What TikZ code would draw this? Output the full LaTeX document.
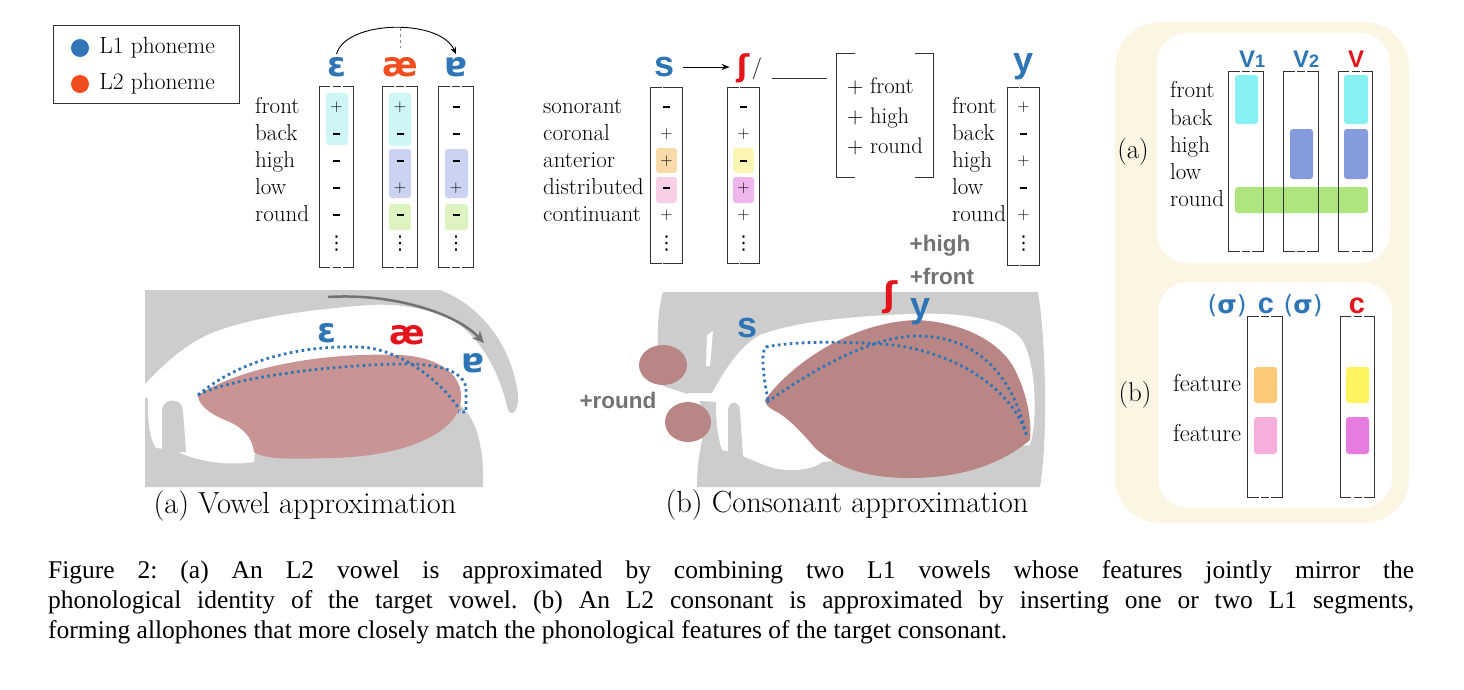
\documentclass[tikz,border=0pt]{standalone}
\usepackage{fontspec}
\usepackage{tikz}
\usetikzlibrary{positioning}
\usetikzlibrary{arrows.meta,calc}

\newfontfamily\capfont{Liberation Serif}
\newfontfamily\arialfont{Liberation Sans}
\newfontfamily\ipafont{DejaVu Sans}

\definecolor{lone}{HTML}{2E75B6}
\definecolor{ltwo}{HTML}{F24D1F}
\definecolor{tgt}{HTML}{E3141B}
\definecolor{palate}{HTML}{CDCDCD}
\definecolor{tonguea}{HTML}{C99494}
\definecolor{tongueb}{HTML}{B98686}
\definecolor{annot}{HTML}{727272}
\definecolor{cream}{HTML}{FCF5E4}
\definecolor{hlcyan}{HTML}{CFF6F6}
\definecolor{hlblue}{HTML}{CAD4F2}
\definecolor{hlgreen}{HTML}{DDF3C2}
\definecolor{hlorange}{HTML}{FADAA8}
\definecolor{hlpink}{HTML}{F8CFE6}
\definecolor{hlyellow}{HTML}{FCF6B6}
\definecolor{hlmagenta}{HTML}{EEB6EC}
\definecolor{fcyan}{HTML}{86F0F2}
\definecolor{fblue}{HTML}{859BDC}
\definecolor{fgreen}{HTML}{AFE57F}
\definecolor{forange}{HTML}{FCC978}
\definecolor{fpink}{HTML}{F5AFDA}
\definecolor{fyellow}{HTML}{FDF45F}
\definecolor{fmagenta}{HTML}{E67CE0}

\newcommand{\mn}{\rule[3.4pt]{7pt}{1.7pt}}

\tikzstyle{feat}=[anchor=base west,inner sep=0pt,font=\fontsize{23}{24}\selectfont]
\tikzstyle{val}=[anchor=base,inner sep=0pt,font=\fontsize{17}{17}\selectfont]
\tikzstyle{vdot}=[inner sep=0pt,font=\ipafont\fontsize{19}{19}\selectfont]
\tikzstyle{col}=[rectangle,inner sep=0pt,minimum width=34pt]
\tikzstyle{brk}=[draw=black!80,line width=0.8pt]
\tikzstyle{phon}=[inner sep=0pt,font=\ipafont\bfseries\fontsize{34}{34}\selectfont]
\tikzstyle{letter}=[inner sep=0pt,font=\arialfont\bfseries\fontsize{36}{36}\selectfont]
\tikzstyle{vlab}=[anchor=base,inner sep=0pt,font=\arialfont\bfseries\fontsize{24}{24}\selectfont]
\tikzstyle{hl}=[rounded corners=3pt]
\tikzstyle{dotline}=[draw=lone,line width=2.8pt,dash pattern=on 2.6pt off 3.4pt]
\tikzstyle{note}=[inner sep=0pt,text=annot,font=\arialfont\bfseries\fontsize{22.5}{23}\selectfont]
\tikzstyle{subcap}=[inner sep=0pt,font=\fontsize{30.5}{32}\selectfont]
\tikzstyle{tag}=[inner sep=0pt,font=\fontsize{27}{27}\selectfont]
\tikzstyle{caption}=[anchor=base west,inner sep=0pt,font=\capfont\fontsize{25.5}{30}\selectfont]

% bracket pair round a feature column
\newcommand{\featbrk}[1]{%
  \draw[brk] ([xshift=11pt]#1.north west) -| (#1.south west) -- ++(11pt,0);
  \draw[brk] ([xshift=-11pt]#1.north east) -| (#1.south east) -- ++(-11pt,0);
  \draw[brk] ([xshift=-4pt]#1.north) -- ++(8pt,0);
  \draw[brk] ([xshift=-4pt]#1.south) -- ++(8pt,0);
}

\begin{document}
\frenchspacing
\begin{tikzpicture}[x=1pt,y=-1pt]

  \useasboundingbox (0,0) rectangle (1464,689);

  % legend
  \node[draw=black!80,line width=0.7pt,minimum width=186pt,minimum height=78pt,inner sep=0pt] (legend) at (146,64) {};
  \node[circle,fill=lone,minimum size=18pt,inner sep=0pt] (l1dot) at (80,48) {};
  \node[circle,fill=ltwo,minimum size=18pt,inner sep=0pt] (l2dot) at (80,84) {};
  \node[right=10pt of l1dot,inner sep=0pt,font=\fontsize{23.5}{24}\selectfont] (l1txt) {L1 phoneme};
  \node[right=10pt of l2dot,inner sep=0pt,font=\fontsize{23.5}{24}\selectfont] (l2txt) {L2 phoneme};

  % ---- vowel matrices
  \foreach \y/\name in {107/front, 134/back, 161/high, 188/low, 215/round}
    \node[feat] (v\name) at (255,\y+6) {\name};

  \foreach \x/\name in {336.5/epsC, 400/aeC, 456/turnC}
    \node[col,minimum height=180pt] (\name) at (\x,177) {};

  \fill[hlcyan,hl] (326,93) rectangle (348,145);
  \fill[hlcyan,hl] (389,93) rectangle (411,146);
  \fill[hlblue,hl] (389,149) rectangle (411,198);
  \fill[hlgreen,hl] (389,204) rectangle (411,230);
  \fill[hlblue,hl] (445,149) rectangle (468,198);
  \fill[hlgreen,hl] (445,204) rectangle (468,230);

  \foreach \x/\name/\a/\b/\c/\d/\e in {336.5/epsC/+/\mn/\mn/\mn/\mn, 400/aeC/+/\mn/\mn/+/\mn, 456/turnC/\mn/\mn/\mn/+/\mn}{
    \foreach \v [count=\i] in {\a,\b,\c,\d,\e}
      \node[val] (\name\i) at (\x,{84+27*\i}) {\v};
    \node[vdot] (\name6) at (\x,244) {⋮};
  }
  \foreach \name in {epsC,aeC,turnC}{\featbrk{\name}}

  \node[phon,text=lone] (epsL) at (336.5,67) {ɛ};
  \node[phon,text=ltwo] (aeL) at (400,67) {æ};
  \node[phon,text=lone] (turnL) at (456,67) {ɐ};

  \coordinate (arctop) at (400,28);
  \draw[-{Stealth[length=7pt,width=6pt]},line width=0.9pt] ([yshift=3pt]epsL.north) .. controls (346,20) and (440,18) .. ([yshift=3pt]turnL.north);
  \draw[dashed,black!45,line width=0.8pt] (arctop) -- ([yshift=9pt]aeL.north);

  % ---- consonant matrices
  \foreach \y/\name in {107/sonorant, 134/coronal, 161/anterior, 188/distributed, 215/continuant}
    \node[feat] (c\name) at (543,\y+6) {\name};

  \foreach \x/\name in {666.5/sC, 743.5/shC}
    \node[col,minimum width=31pt,minimum height=175pt] (\name) at (\x,175.5) {};

  \fill[hlorange,hl] (656,148) rectangle (677,173);
  \fill[hlpink,hl] (656,177) rectangle (677,203);
  \fill[hlyellow,hl] (733,148) rectangle (754,173);
  \fill[hlmagenta,hl] (733,177) rectangle (754,203);

  \foreach \x/\name/\a/\b/\c/\d/\e in {666.5/sC/\mn/+/+/\mn/+, 743.5/shC/\mn/+/\mn/+/+}{
    \foreach \v [count=\i] in {\a,\b,\c,\d,\e}
      \node[val] (\name\i) at (\x,{84+27*\i}) {\v};
    \node[vdot] (\name6) at (\x,244) {⋮};
  }
  \foreach \name in {sC,shC}{\featbrk{\name}}

  \node[letter,text=lone] (sL) at (665,67) {s};
  \node[phon,text=tgt,font=\ipafont\bfseries\fontsize{30}{30}\selectfont] (shL) at (743,68) {ʃ};
  \node[inner sep=0pt,font=\fontsize{22}{22}\selectfont] (slash) at (757,69) {/};
  \draw[-{Stealth[length=8pt,width=6pt]},line width=0.8pt] ([xshift=8pt]sL.east) -- ([xshift=-7pt]sL.east -| shL.west);

  \coordinate (blankL) at (772,78);
  \coordinate (blankR) at (827,78);
  \draw[brk] (blankL) -- (blankR);

  \node[col,minimum width=96pt,minimum height=123pt] (env) at (885,115.5) {};
  \draw[brk] ([xshift=18pt]env.north west) -| (env.south west) -- ++(18pt,0);
  \draw[brk] ([xshift=-18pt]env.north east) -| (env.south east) -- ++(-18pt,0);
  \foreach \y/\t in {93/front, 123/high, 153/round}
    \node[anchor=base west,inner sep=0pt,font=\fontsize{22.5}{22}\selectfont] (env\t) at (847,\y) {+ \t};

  % target vowel y
  \foreach \y/\name in {107/front, 134/back, 161/high, 188/low, 215/round}
    \node[feat] (y\name) at (952,\y+6) {\name};
  \node[col,minimum width=31pt,minimum height=177pt] (yC) at (1023.5,176.5) {};
  \foreach \v [count=\i] in {+,\mn,+,\mn,+}
    \node[val] (yC\i) at (1023.5,{84+27*\i}) {\v};
  \node[vdot] (yC6) at (1023.5,244) {⋮};
  \featbrk{yC}
  \node[letter,text=lone] (yL) at (1023,67) {y};

  % ---- vowel picture
  \fill[palate] (145,290) -- (440,290) .. controls (480,305) and (512,345) .. (518,395)
    .. controls (519,410) and (512,418) .. (508,410) .. controls (500,375) and (485,345) .. (460,325)
    .. controls (440,310) and (400,303) .. (370,305) .. controls (300,310) and (240,320) .. (207,335)
    .. controls (180,348) and (160,368) .. (145,384) -- cycle;
  \fill[palate] (145,398) -- (145,487) -- (483,487) .. controls (484,450) and (478,420) .. (460,405) -- (200,400) -- cycle;
  \fill[white] (148,398) .. controls (147,420) and (150,440) .. (156,448) -- (175,450)
    .. controls (195,462) and (230,466) .. (254,462) -- (258,420) -- (200,397) -- cycle;
  \fill[palate] (162,452) -- (162,411) .. controls (162,397) and (183,397) .. (183,411) -- (186,452) -- cycle;
  \fill[tonguea] (198,395) .. controls (240,368) and (320,352) .. (400,355) .. controls (440,357) and (463,375) .. (461,400)
    .. controls (458,435) and (400,457) .. (330,458) .. controls (295,459) and (265,460) .. (254,452)
    .. controls (252,438) and (245,428) .. (225,420) .. controls (208,413) and (198,404) .. (198,395) -- cycle;

  \draw[dotline] (198,395) .. controls (240,360) and (300,345) .. (360,347) .. controls (400,349) and (440,380) .. (460,410);
  \draw[dotline] (198,395) .. controls (230,378) and (330,365) .. (400,364) .. controls (440,363) and (466,372) .. (466,390) -- (466,412) -- (458,412);

  \coordinate (sweepA) at (328,297);
  \coordinate (sweepB) at (484,343);
  \draw[annot,line width=2.5pt,-{Stealth[length=12pt,width=11pt]}] (sweepA) .. controls (390,293) and (455,312) .. (sweepB);

  \node[phon,text=lone] (epsV) at (327,333) {ɛ};
  \node[phon,text=tgt] (aeV) at (407,335) {æ};
  \node[phon,text=lone] (turnV) at (473,363) {ɐ};

  \node[subcap] (capA) at (305,506) {(a) Vowel approximation};

  % ---- consonant picture
  \fill[palate] (663,292) -- (1038,292) .. controls (1046,340) and (1048,440) .. (1040,487) -- (697,487)
    .. controls (697,465) and (700,450) .. (702,440) -- (700,398) -- (663,386) .. controls (657,360) and (655,320) .. (663,292) -- cycle;
  \fill[white] (688,393) -- (712,393) .. controls (722,375) and (738,347) .. (760,335) .. controls (800,320) and (860,316) .. (910,314)
    .. controls (960,312) and (1005,318) .. (1022,340) .. controls (1036,362) and (1038,420) .. (1030,445) -- (822,462)
    .. controls (812,471) and (785,472) .. (770,467) .. controls (750,460) and (742,455) .. (735,453) -- (722,450)
    .. controls (716,432) and (716,412) .. (716,402) -- (690,400) -- cycle;
  \fill[palate] (728,456) -- (728,411) .. controls (728,400) and (740,400) .. (740,411) -- (743,456) -- cycle;
  \fill[white] (707,335) -- (713,331) -- (710,366) -- (706,366) -- cycle;
  \fill[tongueb] (663,365) ellipse (24 and 20);
  \fill[tongueb] (688,422) ellipse (23 and 20);
  \fill[tongueb] (765,400) .. controls (790,365) and (850,322) .. (917,320) .. controls (960,322) and (1000,340) .. (1015,370)
    .. controls (1028,395) and (1032,425) .. (1030,440) .. controls (1000,465) and (960,478) .. (910,478)
    .. controls (870,478) and (840,470) .. (815,448) .. controls (800,430) and (785,415) .. (773,410)
    .. controls (768,407) and (765,404) .. (765,400) -- cycle;

  \draw[dotline] (768,400) .. controls (764,380) and (760,352) .. (766,347) .. controls (800,340) and (860,342) .. (893,345) .. controls (950,352) and (1012,385) .. (1027,437);
  \draw[dotline] (767,402) .. controls (810,372) and (870,336) .. (917,336) .. controls (975,336) and (1012,372) .. (1027,437);

  \node[letter,text=lone] (sP) at (748,328) {s};
  \node[phon,text=tgt] (shP) at (891,297) {ʃ};
  \node[letter,text=lone] (yP) at (920,312) {y};
  \node[note] (highN) at (940,246) {+high};
  \node[note] (frontN) at (942,276) {+front};
  \node[note] (roundN) at (618,400) {+round};

  \node[subcap] (capB) at (847,505) {(b) Consonant approximation};

  % ---- summary panel
  \fill[cream,rounded corners=45pt] (1115,22) rectangle (1409,523);
  \fill[white,rounded corners=30pt] (1157,33) rectangle (1390,263);
  \fill[white,rounded corners=30pt] (1158,282) rectangle (1392,508);

  % (a)
  \node[tag] (tagA) at (1133,152) {(a)};
  \foreach \y/\name in {97/front, 125/back, 152/high, 179/low, 206/round}
    \node[feat] (a\name) at (1170,\y) {\name};
  \foreach \x/\name in {1246/vOne, 1301/vTwo, 1355.5/vTgt}
    \node[col,minimum height=179pt] (\name) at (\x,161.5) {};
  \fill[fcyan,hl] (1235,75) rectangle (1258,124);
  \fill[fblue,hl] (1290,129) rectangle (1313,179);
  \fill[fcyan,hl] (1344,75) rectangle (1368,124);
  \fill[fblue,hl] (1344,129) rectangle (1368,179);
  \fill[fgreen,hl] (1235,187) rectangle (1368,213);
  \foreach \name in {vOne,vTwo,vTgt}{\featbrk{\name}}
  \node[vlab,text=lone] (vOneL) at (1252,67) {V{\fontsize{18}{18}\selectfont 1}};
  \node[vlab,text=lone] (vTwoL) at (1306,67) {V{\fontsize{18}{18}\selectfont 2}};
  \node[vlab,text=tgt] (vTgtL) at (1356,67) {V};

  % (b)
  \node[tag] (tagB) at (1135,395) {(b)};
  \node[feat,font=\fontsize{24.5}{24}\selectfont] (bfeatA) at (1173,391) {feature};
  \node[feat,font=\fontsize{24.5}{24}\selectfont] (bfeatB) at (1173,441) {feature};
  \foreach \x/\name in {1265/cC, 1357.5/cTgt}
    \node[col,minimum height=180pt] (\name) at (\x,407) {};
  \fill[forange,hl] (1254,367) rectangle (1277,403);
  \fill[fpink,hl] (1254,417) rectangle (1277,454);
  \fill[fyellow,hl] (1346,367) rectangle (1369,403);
  \fill[fmagenta,hl] (1346,417) rectangle (1369,454);
  \foreach \name in {cC,cTgt}{\featbrk{\name}}
  \node[inner sep=0pt,text=lone,font=\ipafont\fontsize{25}{25}\selectfont] (sigA) at (1227,306) {(\textbf{σ})};
  \node[letter,text=lone,font=\arialfont\bfseries\fontsize{29}{29}\selectfont] (cL) at (1266,306) {c};
  \node[inner sep=0pt,text=lone,font=\ipafont\fontsize{25}{25}\selectfont] (sigB) at (1303,306) {(\textbf{σ})};
  \node[letter,text=tgt,font=\arialfont\bfseries\fontsize{29}{29}\selectfont] (cTgtL) at (1357,306) {c};

  % ---- caption
  \node[caption] (cap1) at (48,578) {\makebox[1366pt][s]{Figure 2: (a) An L2 vowel is approximated by combining two L1 vowels whose features jointly mirror the}};
  \node[caption] (cap2) at (48,608) {\makebox[1366pt][s]{phonological identity of the target vowel. (b) An L2 consonant is approximated by inserting one or two L1 segments,}};
  \node[caption] (cap3) at (48,638) {forming allophones that more closely match the phonological features of the target consonant.};

\end{tikzpicture}
\end{document}
